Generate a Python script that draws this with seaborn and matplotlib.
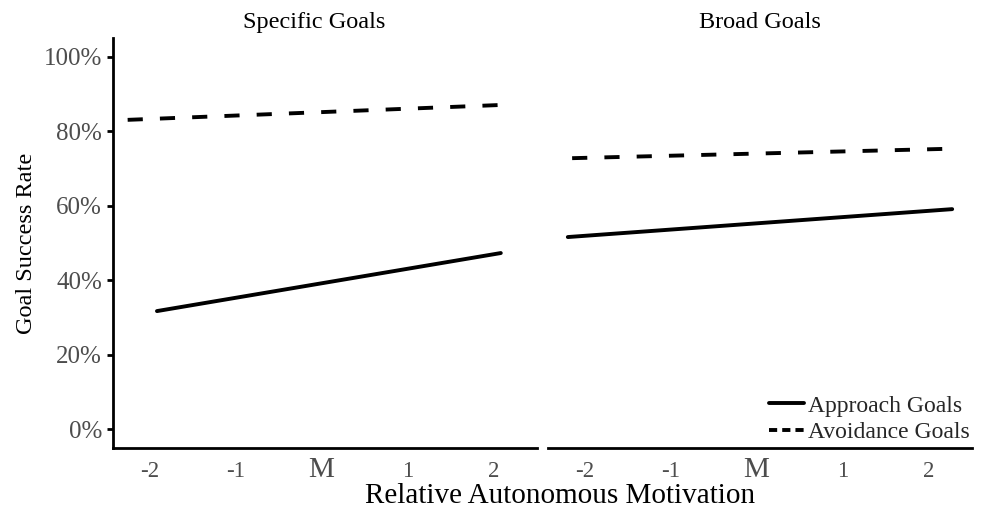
import matplotlib
matplotlib.use("Agg")
import matplotlib.pyplot as plt
from matplotlib.lines import Line2D
import seaborn as sns
import pandas as pd

sns.set_style("white")
plt.rcParams["font.family"] = ["Liberation Serif", "DejaVu Serif"]

# values
panels = ["Specific Goals", "Broad Goals"]
goal_types = ["Approach Goals", "Avoidance Goals"]

specific_approach_x = [-1.91, 2.08]
specific_approach_y = [31.7, 47.3]
specific_avoid_x = [-2.25, 2.08]
specific_avoid_y = [83.1, 87.1]

broad_approach_x = [-2.19, 2.27]
broad_approach_y = [51.6, 59.1]
broad_avoid_x = [-2.14, 2.19]
broad_avoid_y = [72.8, 75.3]

x_ticks = [-2, -1, 0, 1, 2]
x_tick_labels = ["-2", "-1", "M", "1", "2"]
y_ticks = [0, 20, 40, 60, 80, 100]
y_tick_labels = ["0%", "20%", "40%", "60%", "80%", "100%"]

rows = []
for panel, series in zip(panels, [
    [(specific_approach_x, specific_approach_y), (specific_avoid_x, specific_avoid_y)],
    [(broad_approach_x, broad_approach_y), (broad_avoid_x, broad_avoid_y)],
]):
    for gtype, (xs, ys) in zip(goal_types, series):
        for x, y in zip(xs, ys):
            rows.append({"panel": panel, "type": gtype, "x": x, "y": y})
df = pd.DataFrame(rows)

W, H = 981, 513
fig = plt.figure(figsize=(W / 100, H / 100), dpi=100)

ax_left = fig.add_axes([113 / W, 1 - 448 / H, 424 / W, 410 / H])
ax_right = fig.add_axes([548 / W, 1 - 448 / H, 424 / W, 410 / H])

lw = 2.8
dash_map = {"Approach Goals": "", "Avoidance Goals": (3.9, 4.4)}
grey = "#4D4D4D"

for ax, panel, title_x in zip([ax_left, ax_right], panels, [314, 760]):
    sns.lineplot(data=df[df["panel"] == panel], x="x", y="y", style="type",
                 style_order=goal_types, dashes=dash_map, color="black",
                 linewidth=lw, ax=ax, legend=False)
    ax.set_xlim(-2.42, 2.5)
    ax.set_ylim(-5.1, 105.1)
    ax.set_xlabel("")
    ax.set_ylabel("")
    ax.set_xticks(x_ticks)
    ax.set_xticklabels(x_tick_labels)
    ax.tick_params(axis="x", length=0, pad=21, labelsize=16.5, labelcolor=grey)
    for lbl in ax.get_xticklabels():
        lbl.set_va("baseline")
        if lbl.get_text() == "M":
            lbl.set_fontsize(21)
    for side in ["top", "right"]:
        ax.spines[side].set_visible(False)
    ax.spines["bottom"].set_linewidth(2)
    ax.spines["bottom"].set_color("black")
    ax.spines["left"].set_linewidth(2)
    ax.spines["left"].set_color("black")
    fig.text(title_x / W, 1 - 28 / H, panel, ha="center", va="baseline",
             fontsize=17.5, color="black")

ax_left.set_yticks(y_ticks)
ax_left.set_yticklabels(y_tick_labels)
ax_left.tick_params(axis="y", left=True, length=4, width=2, color="black",
                    pad=4, labelsize=18, labelcolor=grey)
ax_left.set_ylabel("Goal Success Rate", fontsize=17.5, color="black")
ax_left.yaxis.set_label_coords(-0.179, 0.5)

ax_right.spines["left"].set_visible(False)
ax_right.set_yticks([])

fig.text(560 / W, 1 - 503 / H, "Relative Autonomous Motivation",
         ha="center", va="baseline", fontsize=21, color="black")

handles = [
    Line2D([], [], color="black", linewidth=lw),
    Line2D([], [], color="black", linewidth=lw, dashes=(2.1, 1.3)),
]
ax_right.legend(handles, goal_types, loc="lower right",
                bbox_to_anchor=(970 / W, 1 - 443 / H),
                bbox_transform=fig.transFigure, frameon=False, fontsize=17,
                handlelength=1.45, handletextpad=0.2, labelspacing=0.2,
                borderpad=0, borderaxespad=0)

fig.savefig("out.png", dpi=100)
